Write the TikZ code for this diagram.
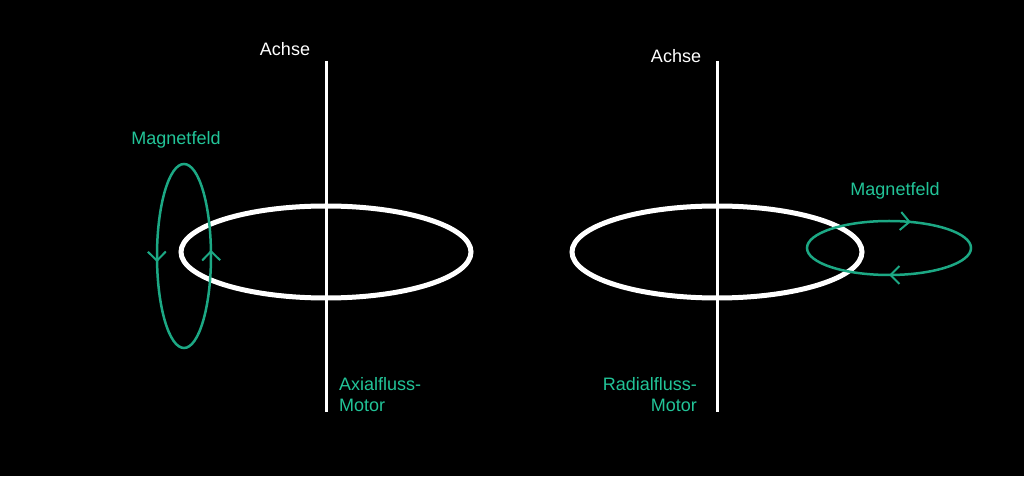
\documentclass[tikz,border=0pt]{standalone}
\usepackage{fontspec}
\setmainfont{Liberation Sans}
\usetikzlibrary{arrows.meta,decorations.markings}
\definecolor{fieldgreen}{RGB}{28,168,132}
\definecolor{labelgreen}{RGB}{34,196,152}
\tikzset{
  lbl/.style={font=\fontsize{18}{21}\selectfont, inner sep=0pt},
  whitelbl/.style={lbl, text=white},
  greenlbl/.style={lbl, text=labelgreen},
  axisline/.style={white, line width=3pt},
  rotor/.style={white, line width=5pt},
  field/.style={fieldgreen, line width=2.5pt},
  fieldarrows/.style 2 args={postaction={decorate}, decoration={markings,
    mark=at position #1 with {\arrow[fieldgreen]{Straight Barb[length=9pt,width=18pt,line width=2pt]}},
    mark=at position #2 with {\arrow[fieldgreen]{Straight Barb[length=9pt,width=18pt,line width=2pt]}}}}
}
\begin{document}
\begin{tikzpicture}[x=1pt,y=1pt]
\fill[black] (0,0) rectangle (1024,476);
\useasboundingbox (0,0) rectangle (1024,476);

% ---------- left: axial flux motor ----------
\coordinate (axLtop) at (326,415);
\coordinate (axLbot) at (326,64);
\coordinate (rotL) at (326,224);
\draw[rotor] (rotL) ellipse[x radius=145, y radius=46];
\draw[axisline] (axLtop) -- (axLbot);
\node[whitelbl] (achseL) at (285,427) {Achse};
\coordinate (fieldL) at (184,220);
\draw[field, fieldarrows={0.015}{0.515}] (fieldL) ++(27,0)
  arc[start angle=0, end angle=360, x radius=27, y radius=92];
\node[greenlbl] (magL) at (176,336) {Magnetfeld};
\node[greenlbl, anchor=west, align=left] (axial) at (339,81.5) {Axialfluss-\\Motor};

% ---------- right: radial flux motor ----------
\coordinate (axRtop) at (717,415);
\coordinate (axRbot) at (717,64);
\coordinate (rotR) at (717,224);
\draw[rotor] (rotR) ellipse[x radius=145, y radius=46];
\draw[axisline] (axRtop) -- (axRbot);
\node[whitelbl] (achseR) at (676,420) {Achse};
\coordinate (fieldR) at (889,228);
\draw[field, fieldarrows={0.06}{0.5}] (fieldR) ++(0,27)
  arc[start angle=90, end angle=-270, x radius=82, y radius=27];
\node[greenlbl] (magR) at (895,285) {Magnetfeld};
\node[greenlbl, anchor=east, align=right] (radial) at (697,81.5) {Radialfluss-\\Motor};
\end{tikzpicture}
\end{document}
